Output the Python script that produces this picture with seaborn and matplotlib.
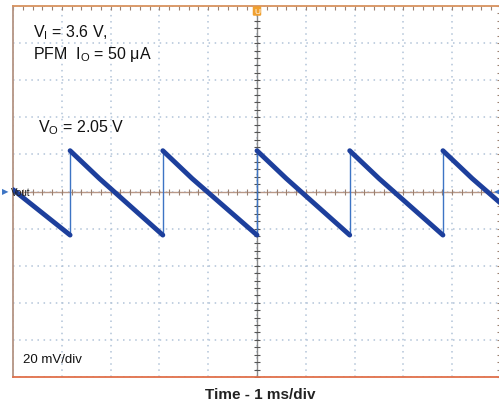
import numpy as np
import pandas as pd
import seaborn as sns
import matplotlib
matplotlib.use("Agg")
import matplotlib.pyplot as plt

sns.set_style("white")
plt.rcParams["font.family"] = ["Liberation Sans", "DejaVu Sans"]
plt.rcParams["mathtext.fontset"] = "custom"
plt.rcParams["mathtext.rm"] = "Liberation Sans"
plt.rcParams["mathtext.it"] = "Liberation Sans:italic"

# ---- data (time in ms, Vout ripple in mV relative to marker) ----
jump_times = [1.17, 3.07, 5.00, 6.90, 8.81]
jump_low_mv = [-23.5, -23.5, -23.5, -23.5, -23.5]
jump_high_mv = [22.0, 22.0, 22.0, 22.0, 22.0]

ramp_t = [
    [0.00, 1.17],
    [1.17, 1.77, 3.07],
    [3.07, 3.67, 5.00],
    [5.00, 5.60, 6.90],
    [6.90, 7.50, 8.81],
    [8.81, 9.41, 10.00],
]
ramp_mv = [
    [1.0, -23.5],
    [22.0, 7.0, -23.5],
    [22.0, 7.0, -23.5],
    [22.0, 7.0, -23.5],
    [22.0, 7.0, -23.5],
    [22.0, 7.0, -6.5],
]

W, H = 499, 406
fig = plt.figure(figsize=(W / 100, H / 100), dpi=100)
fig.patch.set_facecolor("white")
ax = fig.add_axes([13 / W, 28 / H, 488 / W, 371 / H])

# ramps (thick trace)
rows = []
for i, (ts, vs) in enumerate(zip(ramp_t, ramp_mv)):
    for t, v in zip(ts, vs):
        rows.append({"t": t, "mv": v, "seg": i})
df_ramp = pd.DataFrame(rows)

rows = []
for i, (t, lo, hi) in enumerate(zip(jump_times, jump_low_mv, jump_high_mv)):
    rows.append({"t": t, "mv": lo, "seg": i})
    rows.append({"t": t, "mv": hi, "seg": i})
df_jump = pd.DataFrame(rows)

# grid + axes
ax.set_xlim(0, 10)
ax.set_ylim(-100, 100)
ax.set_xticks(np.arange(0, 11, 1))
ax.set_yticks(np.arange(-100, 101, 20))
ax.set_xticks(np.arange(0, 10.01, 0.2), minor=True)
ax.set_yticks(np.arange(-100, 100.1, 4), minor=True)
ax.grid(True, which="major", color="#b2c4d8", linestyle=(0, (1, 3)), linewidth=1.1)
ax.tick_params(which="both", direction="in", length=3, width=0.8, color="#9a8070",
               labelbottom=False, labelleft=False, top=True, right=True)
ax.set_xticklabels([])
ax.set_yticklabels([])
for side, col in [("top", "#d8925e"), ("bottom", "#e0704a"), ("left", "#b49484"), ("right", "#b49484")]:
    ax.spines[side].set_color(col)
    ax.spines[side].set_linewidth(1.3)

# center crosshair with ticks
ax.axhline(0, color="#b89888", lw=1.0, zorder=1)
ax.axvline(5, color="#8a8a8a", lw=1.0, zorder=1)
ax.plot(np.arange(0, 10.01, 0.2), np.zeros_like(np.arange(0, 10.01, 0.2)), ls="none",
        marker="|", ms=5, mew=0.8, color="#9a8070", zorder=1)
ax.plot(np.full_like(np.arange(-100, 100.1, 4), 5.0), np.arange(-100, 100.1, 4), ls="none",
        marker="_", ms=5, mew=0.8, color="#555555", zorder=1)

sns.lineplot(data=df_jump, x="t", y="mv", units="seg", estimator=None, sort=False,
             color="#3d74c4", lw=1.0, ax=ax, zorder=3)
sns.lineplot(data=df_ramp, x="t", y="mv", units="seg", estimator=None, sort=False,
             color="#1d3f9c", lw=3.5, ax=ax, zorder=4)
ax.set_xlabel("")
ax.set_ylabel("")

# markers
fig.text(257 / W, 1 - 12 / H, "U", color="white", fontsize=6, ha="center", va="center",
         bbox=dict(boxstyle="round,pad=0.15", fc="#f0a030", ec="none"))
fig.text(5 / W, 1 - 193 / H, "\u25B6", color="#3d74c4", fontsize=6, ha="center", va="center")
fig.text(11 / W, 1 - 193 / H, "Vout", color="#222222", fontsize=7, ha="left", va="center")
fig.text(497 / W, 1 - 193 / H, "\u25C0", color="#3d74c4", fontsize=6, ha="center", va="center")

# annotations
fig.text(33 / W, 1 - 33 / H, r"V$_\mathrm{I}$ = 3.6 V,", fontsize=11.5, ha="left", va="center", color="#111111")
fig.text(33 / W, 1 - 55 / H, "PFM  I$_\\mathrm{O}$ = 50 \u03bcA", fontsize=11.5, ha="left", va="center", color="#111111")
fig.text(38 / W, 1 - 128 / H, r"V$_\mathrm{O}$ = 2.05 V", fontsize=11.5, ha="left", va="center", color="#111111")
fig.text(23 / W, 1 - 360 / H, "20 mV/div", fontsize=9.5, ha="left", va="center", color="#111111")
fig.text(260 / W, 1 - 395 / H, "Time - 1 ms/div", fontsize=11, fontweight="bold",
         ha="center", va="center", color="#222222")

fig.savefig("out.png", dpi=100, facecolor="white")
